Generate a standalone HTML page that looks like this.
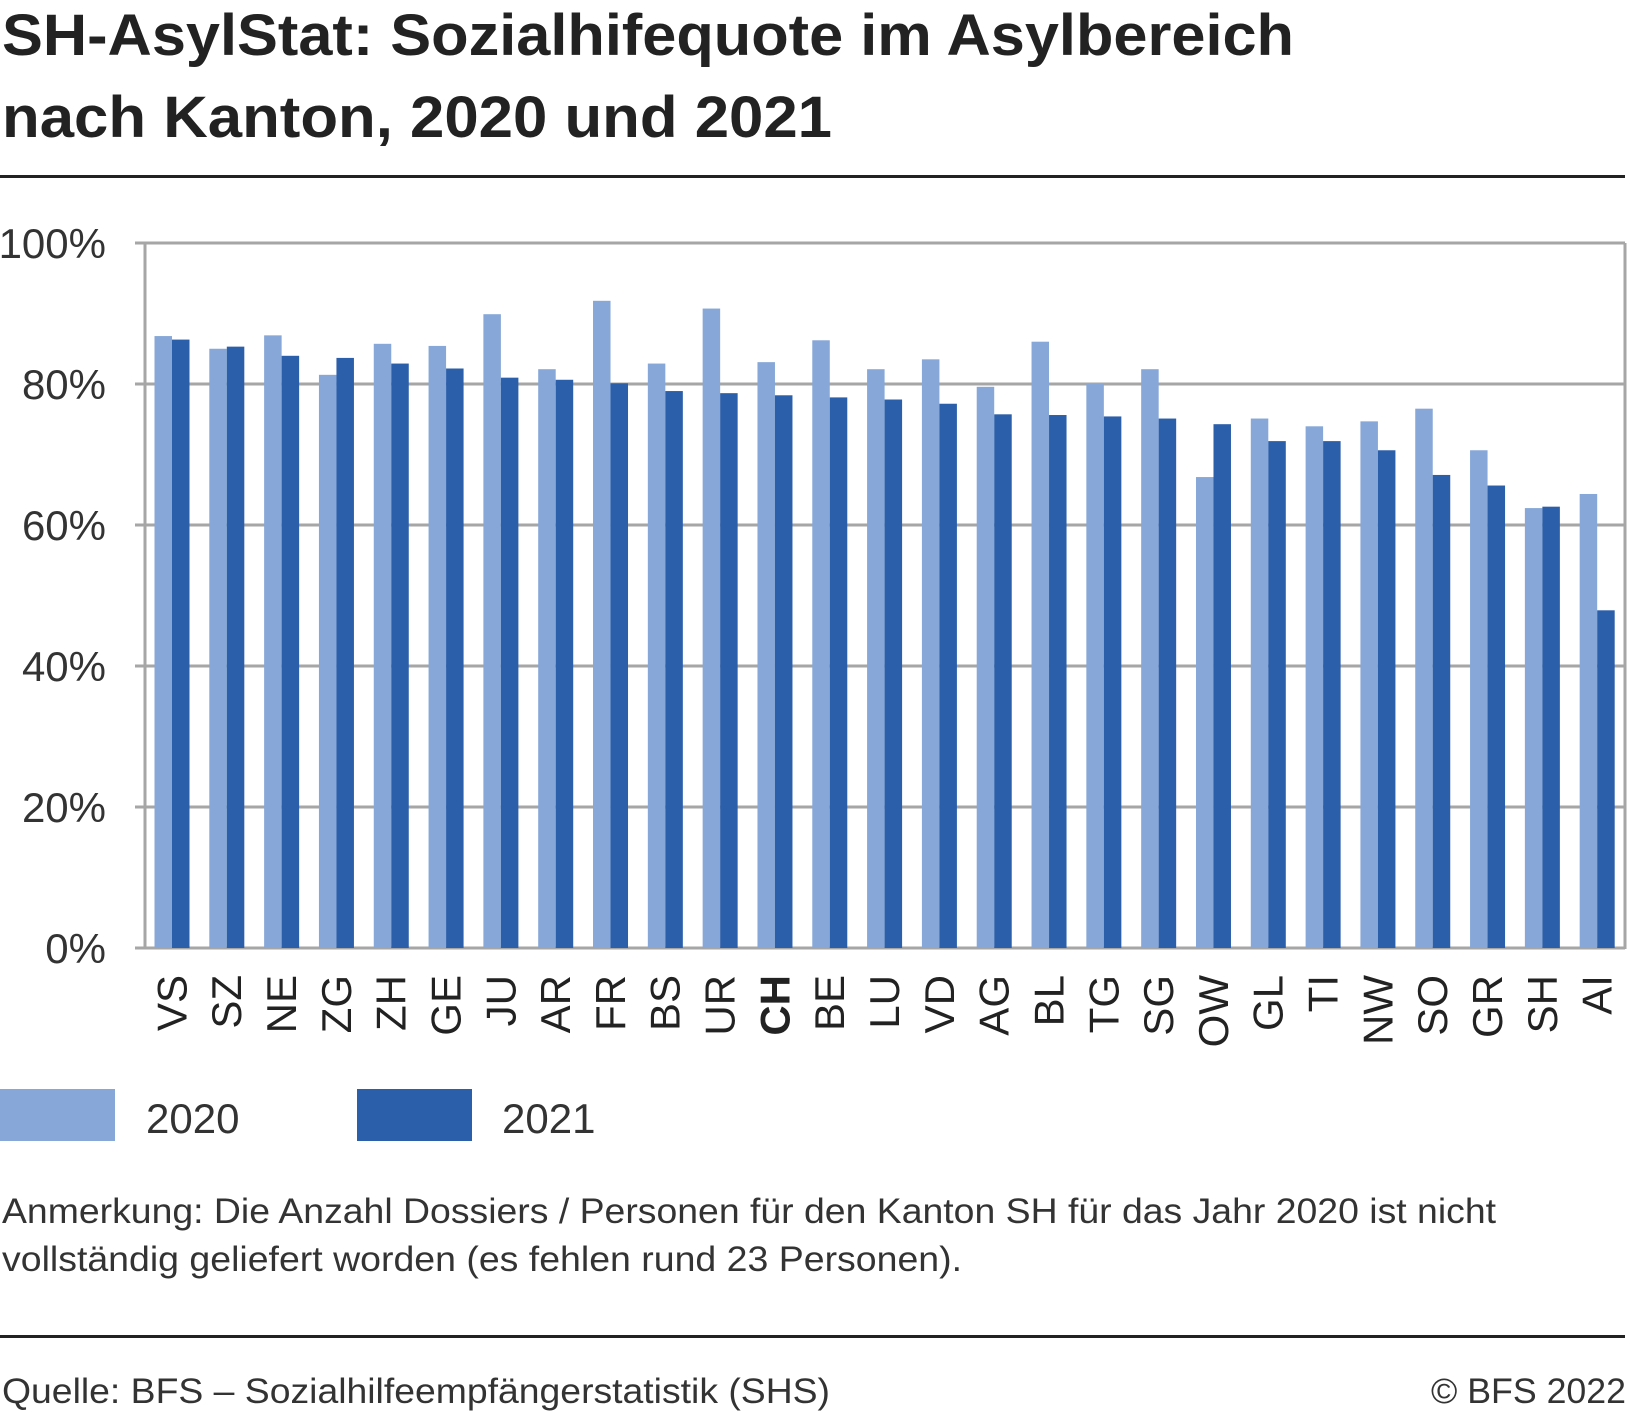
<!DOCTYPE html>
<html><head><meta charset="utf-8"><style>
body{margin:0;background:#fff}
svg{display:block;font-family:"Liberation Sans",sans-serif}
</style></head><body>
<svg id="chart" width="1630" height="1412" viewBox="0 0 1630 1412">
<text x="2" y="55" font-size="58" font-weight="bold" fill="#222" textLength="1292" lengthAdjust="spacingAndGlyphs">SH-AsylStat: Sozialhifequote im Asylbereich</text>
<text x="2" y="137" font-size="58" font-weight="bold" fill="#222" textLength="830" lengthAdjust="spacingAndGlyphs">nach Kanton, 2020 und 2021</text>
<rect x="0" y="175" width="1625" height="3" fill="#222"/>
<g id="plot"></g>
<rect x="0" y="1089" width="115" height="52" fill="#86a7d7"/>
<text x="146" y="1133" font-size="42" fill="#333">2020</text>
<rect x="357" y="1089" width="115" height="52" fill="#2c5faa"/>
<text x="502" y="1133" font-size="42" fill="#333">2021</text>
<text x="2" y="1223" font-size="35" fill="#333" textLength="1494" lengthAdjust="spacingAndGlyphs">Anmerkung: Die Anzahl Dossiers / Personen für den Kanton SH für das Jahr 2020 ist nicht</text>
<text x="2" y="1271" font-size="35" fill="#333" textLength="960" lengthAdjust="spacingAndGlyphs">vollständig geliefert worden (es fehlen rund 23 Personen).</text>
<rect x="0" y="1335" width="1625" height="3" fill="#222"/>
<text x="2" y="1403" font-size="35" fill="#333" textLength="828" lengthAdjust="spacingAndGlyphs">Quelle: BFS – Sozialhilfeempfängerstatistik (SHS)</text>
<text x="1626" y="1403" font-size="35" fill="#333" text-anchor="end" textLength="195" lengthAdjust="spacingAndGlyphs">© BFS 2022</text>
</svg>
<script>
const categories=["VS","SZ","NE","ZG","ZH","GE","JU","AR","FR","BS","UR","CH","BE","LU","VD","AG","BL","TG","SG","OW","GL","TI","NW","SO","GR","SH","AI"];
const values2020=[86.8,85.0,86.9,81.3,85.7,85.4,89.9,82.1,91.8,82.9,90.7,83.1,86.2,82.1,83.5,79.6,86.0,80.0,82.1,66.8,75.1,74.0,74.7,76.5,70.6,62.4,64.4];
const values2021=[86.3,85.3,84.0,83.7,82.9,82.2,80.9,80.6,80.1,79.0,78.7,78.4,78.1,77.8,77.2,75.7,75.6,75.4,75.1,74.3,71.9,71.9,70.6,67.1,65.6,62.6,47.9];
const yTicks=[0,20,40,60,80,100];
const yTickLabels=["0%","20%","40%","60%","80%","100%"];
const NS="http://www.w3.org/2000/svg";
const g=document.getElementById('plot');
const X0=145,X1=1625,Y0=948,Y1=243;
const step=(X1-X0)/categories.length;
const yS=v=>Y0-(v/100)*(Y0-Y1);
const xS=i=>X0+i*step;
function mk(t,a){const e=document.createElementNS(NS,t);for(const k in a)e.setAttribute(k,a[k]);g.appendChild(e);return e;}
yTicks.forEach((t,i)=>{
  const l=mk('line',{x1:X0-10,x2:X1,y1:yS(t),y2:yS(t),stroke:'#a6a6a6','stroke-width':3});
  
  
  const tx=mk('text',{x:106,y:yS(t)+15,'font-size':42,fill:'#333','text-anchor':'end'});
  tx.textContent=yTickLabels[i];
  
  
});
const bw=17.5,off=9.5;
categories.forEach((c,i)=>{
  const x=xS(i)+off;
  const b1=mk('rect',{x:x,y:yS(values2020[i]),width:bw,height:Y0-yS(values2020[i]),fill:'#86a7d7'});
  
  
  const b2=mk('rect',{x:x+bw,y:yS(values2021[i]),width:bw,height:Y0-yS(values2021[i]),fill:'#2c5faa'});
  
  
  const cx=xS(i)+step/2+14;
  const t=mk('text',{x:cx,y:975,'font-size':42,fill:'#222','text-anchor':'end',transform:`rotate(-90 ${cx} 975)`,'font-weight':c==='CH'?'bold':'normal'});
  t.textContent=c;
  
  
});
const ax=mk('line',{x1:X0,x2:X0,y1:Y1,y2:Y0+1,stroke:'#a6a6a6','stroke-width':3});


const ar=mk('line',{x1:X1,x2:X1,y1:Y1,y2:Y0+1,stroke:'#a6a6a6','stroke-width':3});


</script>
</body></html>
